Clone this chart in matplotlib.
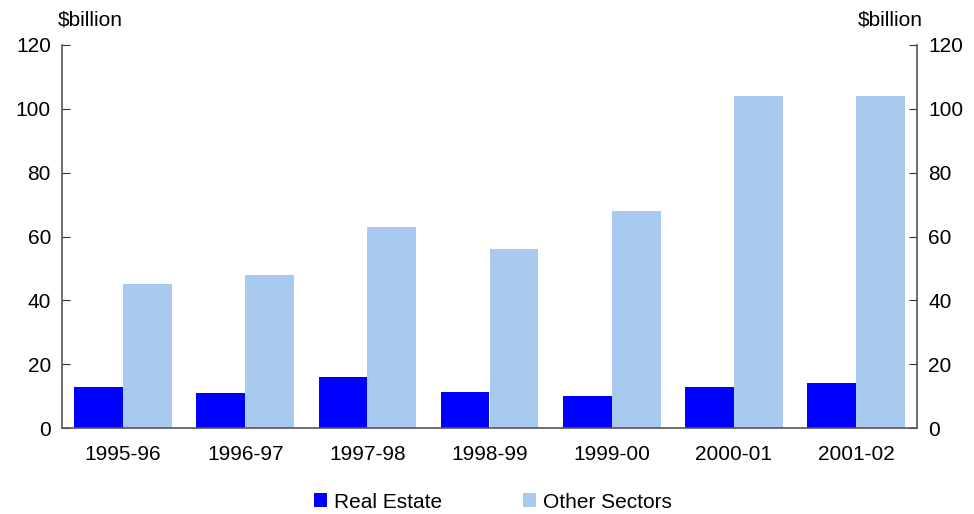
import numpy as np
import matplotlib.pyplot as plt

plt.rcParams['font.family'] = ['Liberation Sans', 'DejaVu Sans']

# Data
years = ['1995-96', '1996-97', '1997-98', '1998-99', '1999-00', '2000-01', '2001-02']
real_estate = [12.8, 11.0, 16.0, 11.2, 10.0, 13.0, 14.0]
other_sectors = [45, 48, 63, 56, 68, 104, 104]

blue = '#0000FF'
light_blue = '#A8CAEE'
fs = 15

fig = plt.figure(figsize=(9.74, 5.14), dpi=100)
ax = fig.add_axes([62/974, 1-428/514, (917-62)/974, (428-45)/514])

x = np.arange(len(years))
w = 0.4
ax.bar(x - w/2, real_estate, w, color=blue, label='Real Estate')
ax.bar(x + w/2, other_sectors, w, color=light_blue, label='Other Sectors')

ax.set_xlim(-0.5, len(years) - 0.5)
ax.set_ylim(0, 120)
ax.set_yticks(range(0, 121, 20))
ax.set_xticks(x)
ax.set_xticklabels(years, fontsize=fs)
ax.tick_params(axis='x', length=0, pad=12)
ax.tick_params(axis='y', direction='in', length=6, labelsize=fs, pad=8,
               right=True, labelright=True, color='#333333')

ax.spines['top'].set_visible(False)
for s in ['left', 'right', 'bottom']:
    ax.spines[s].set_color('#555555')
    ax.spines[s].set_linewidth(1.2)

fig.text(58/974, 1-20/514, '$billion', ha='left', va='center', fontsize=fs)
fig.text(923/974, 1-20/514, '$billion', ha='right', va='center', fontsize=fs)

fig.legend(loc='center', bbox_to_anchor=(493/974, 1-502/514), ncol=2, frameon=False,
           fontsize=fs, handlelength=0.62, handleheight=0.62, handletextpad=0.35,
           columnspacing=3.9)

fig.savefig('out.png', dpi=100)
